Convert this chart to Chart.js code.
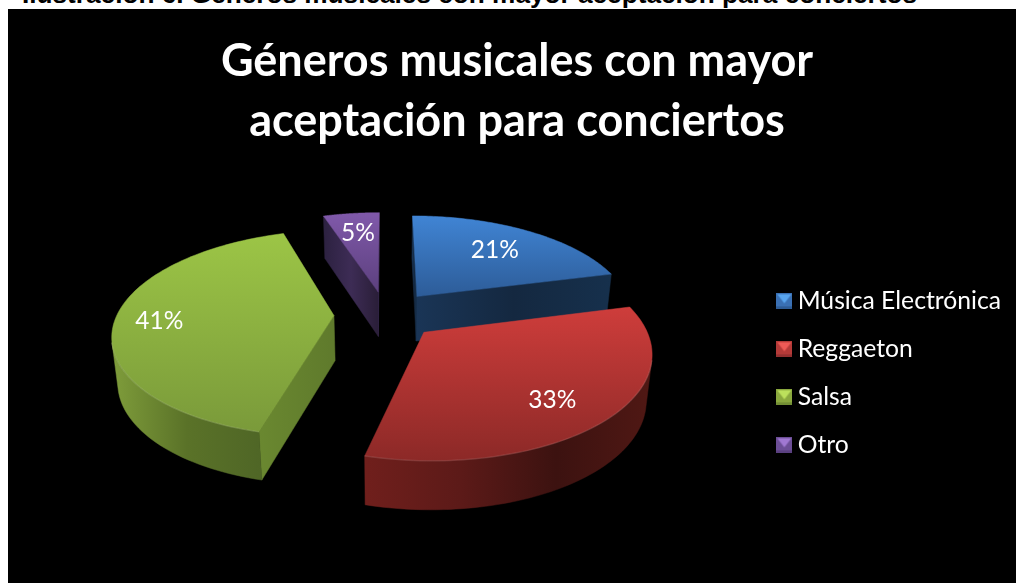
<!DOCTYPE html>
<html>
<head>
<meta charset="utf-8">
<title>Géneros musicales</title>
<script src="https://cdn.jsdelivr.net/npm/chart.js@4"></script>
<style>
  html, body { margin: 0; padding: 0; background: #fff; overflow: hidden; }
  #caption {
    position: absolute; left: 22px; top: -18px; white-space: nowrap;
    font: bold 26.2px/24px "Liberation Sans", Arial, sans-serif; color: #000;
  }
  #panel { position: absolute; left: 8px; top: 9px; width: 1008px; height: 574px; background: #000; }
</style>
</head>
<body>
<div id="caption">Ilustración 6. Géneros musicales con mayor aceptación para conciertos</div>
<div id="panel"><canvas id="pie" width="1008" height="574"></canvas></div>
<script>
const categories = ["Música Electrónica", "Reggaeton", "Salsa", "Otro"];
const percentages = [21, 33, 41, 5];
const titleLines = ["Géneros musicales con mayor", "aceptación para conciertos"];

// how far along the slice bisector each percentage sits, as a share of the radius
const labelRadius = [0.68, 0.74, 0.8, 0.72];
const labelNudge = [[0, 0], [-4, 7], [0, 3], [0, 0]];

const topColors = [
    ["#4084d4", "#2d5c98"],
    ["#ce3d3b", "#8c2927"],
    ["#9cc546", "#7a9a3a"],
    ["#8059aa", "#5c407e"],
];
const wallColors = [
    ["#18304e", "#132640"],
    ["#701f1c", "#5c1a18", "#3c1210", "#501814"],
    ["#7f9d3b", "#5a7228", "#4f6626"],
    ["#2e2440", "#2e2440"],
];
const cutColors = [
    ["#1a3556", "#142840", "#16304c"],
    ["#5c1a18", "#5c1a18"],
    ["#6a8830", "#5f7a2c"],
    ["#2c2140", "#3d2c55", "#2a1e38"],
];
const legendColors = [
    ["#58a4ee", "#3a70b4", "#2e5c96"],
    ["#ee5a56", "#b43a38", "#943030"],
    ["#bce05c", "#8aa83e", "#728e34"],
    ["#a078d2", "#6c4e96", "#5a4080"],
];

// flattening and perspective of the tilted disc
const FLATTEN = 100 / 217;
const PERSPECTIVE = 0.17;
const DEPTH_NEAR = 29;
const DEPTH_FAR = 16;
const BASE_SCALE = 0.978;
const SHIFT_X = -5.5;
const SHIFT_Y = -58.5;
const STEPS = 90;

function project(arc, u, v, lowered) {
    const r = arc.outerRadius;
    const w = 1 + PERSPECTIVE * v;
    let x = (r * u) / w;
    let y = (-r * FLATTEN * v) / w;
    if (lowered) {
        x *= BASE_SCALE;
        y += DEPTH_NEAR + DEPTH_FAR / w;
    }
    return { x: arc.x + SHIFT_X + x, y: arc.y + SHIFT_Y + y };
}

// disc coordinates: u to the right, v to the back, theta clockwise from the top
function slicePoints(arc) {
    const from = arc.startAngle + Math.PI / 2;
    const to = arc.endAngle + Math.PI / 2;
    const mid = (from + to) / 2;
    const e = arc.options.offset / arc.outerRadius;
    const ox = e * Math.sin(mid);
    const oy = e * Math.cos(mid);
    const rim = [];
    for (let i = 0; i <= STEPS; i++) {
        const t = from + ((to - from) * i) / STEPS;
        rim.push([ox + Math.sin(t), oy + Math.cos(t)]);
    }
    return { apex: [ox, oy], rim, mid, e };
}

function area(points) {
    let sum = 0;
    points.forEach((p, i) => {
        const q = points[(i + 1) % points.length];
        sum += p.x * q.y - q.x * p.y;
    });
    return sum;
}

function tracePath(ctx, points) {
    ctx.beginPath();
    points.forEach((p, i) => (i ? ctx.lineTo(p.x, p.y) : ctx.moveTo(p.x, p.y)));
    ctx.closePath();
}

function spreadGradient(ctx, points, colors, vertical) {
    const xs = points.map((p) => (vertical ? p.y : p.x));
    const lo = Math.min(...xs);
    const hi = Math.max(...xs);
    const g = vertical ? ctx.createLinearGradient(0, lo, 0, hi) : ctx.createLinearGradient(lo, 0, hi, 0);
    colors.forEach((c, i) => g.addColorStop(i / (colors.length - 1), c));
    return g;
}

function fillFace(ctx, points, colors, vertical) {
    const fill = spreadGradient(ctx, points, colors, vertical);
    tracePath(ctx, points);
    ctx.fillStyle = fill;
    ctx.strokeStyle = fill;
    ctx.lineWidth = 0.5;
    ctx.fill();
    ctx.stroke();
}

function sideFace(arc, a, b) {
    return [project(arc, a[0], a[1]), project(arc, b[0], b[1]), project(arc, b[0], b[1], true), project(arc, a[0], a[1], true)];
}

function drawSlice(ctx, arc, index) {
    const { apex, rim } = slicePoints(arc);

    // the two cut faces, only when they turn towards the viewer
    [sideFace(arc, apex, rim[0]), sideFace(arc, rim[STEPS], apex)].forEach((face) => {
        if (area(face) < 0) fillFace(ctx, face, cutColors[index], false);
    });

    // outer wall, the run of rim segments that faces the viewer
    const upper = [];
    const lower = [];
    for (let i = 0; i < STEPS; i++) {
        if (area(sideFace(arc, rim[i], rim[i + 1])) < 0) {
            if (!upper.length) {
                upper.push(project(arc, rim[i][0], rim[i][1]));
                lower.push(project(arc, rim[i][0], rim[i][1], true));
            }
            upper.push(project(arc, rim[i + 1][0], rim[i + 1][1]));
            lower.push(project(arc, rim[i + 1][0], rim[i + 1][1], true));
        }
    }
    if (upper.length) fillFace(ctx, upper.concat(lower.reverse()), wallColors[index], false);

    // top face
    const top = [apex].concat(rim).map((p) => project(arc, p[0], p[1]));
    fillFace(ctx, top, topColors[index], true);

    // lit bevel on the front rim
    if (upper.length) {
        ctx.beginPath();
        upper.forEach((p, i) => (i ? ctx.lineTo(p.x, p.y) : ctx.moveTo(p.x, p.y)));
        ctx.strokeStyle = "rgba(255,255,255,0.1)";
        ctx.lineWidth = 1.5;
        ctx.stroke();
    }
}

// pie controller that lays the arcs out as usual and paints them as a tilted solid
class TiltedPieController extends Chart.PieController {
    draw() {
        const ctx = this.chart.ctx;
        const arcs = this._cachedMeta.data;
        const order = arcs
            .map((arc, index) => ({ arc, index, depth: slicePoints(arc).apex[1] }))
            .sort((a, b) => b.depth - a.depth);
        ctx.save();
        order.forEach((item) => drawSlice(ctx, item.arc, item.index));
        ctx.restore();
    }
}
TiltedPieController.id = "tiltedPie";
TiltedPieController.defaults = Chart.PieController.defaults;
TiltedPieController.overrides = Chart.PieController.overrides;
Chart.register(TiltedPieController);

const percentLabels = {
    id: "percentLabels",
    afterDatasetsDraw(chart) {
        const ctx = chart.ctx;
        const arcs = chart.getDatasetMeta(0).data;
        ctx.save();
        ctx.fillStyle = "#fff";
        ctx.font = '24.5px Lato, sans-serif';
        ctx.textAlign = "center";
        ctx.textBaseline = "middle";
        arcs.forEach((arc, i) => {
            const { mid, e } = slicePoints(arc);
            const r = labelRadius[i] + e;
            const p = project(arc, r * Math.sin(mid), r * Math.cos(mid));
            ctx.fillText(percentages[i] + "%", p.x + labelNudge[i][0], p.y + labelNudge[i][1]);
        });
        ctx.restore();
    },
};

// small bevelled legend square: light top, mid sides, dark bottom
function legendSwatch(colors) {
    const size = 16;
    const c = document.createElement("canvas");
    c.width = size;
    c.height = size;
    const g = c.getContext("2d");
    g.fillStyle = colors[1];
    g.fillRect(0, 0, size, size);
    g.fillStyle = colors[0];
    g.beginPath();
    g.moveTo(1, 1);
    g.lineTo(size - 1, 1);
    g.lineTo(size / 2, size / 2 + 2);
    g.fill();
    g.fillStyle = colors[2];
    g.fillRect(0, size - 3, size, 3);
    return c;
}

new Chart(document.getElementById("pie"), {
    type: "tiltedPie",
    data: {
        labels: categories,
        datasets: [{
            data: percentages,
            radius: 217,
            offset: 52,
            backgroundColor: topColors.map((c) => c[0]),
            pointStyle: legendColors.map(legendSwatch),
        }],
    },
    plugins: [percentLabels],
    options: {
        responsive: false,
        animation: false,
        layout: { padding: { left: 15, right: 5, bottom: 6 } },
        plugins: {
            tooltip: { enabled: false },
            title: {
                display: true,
                text: titleLines,
                color: "#fff",
                font: { family: "Lato, sans-serif", size: 45, weight: "bold", lineHeight: 1.33 },
                padding: { top: 23, bottom: 18 },
            },
            legend: {
                position: "right",
                fullSize: false,
                labels: {
                    color: "#fff",
                    font: { family: "Lato, sans-serif", size: 24.7 },
                    usePointStyle: true,
                    pointStyleWidth: 2,
                    padding: 23.3,
                    generateLabels(chart) {
                        const set = chart.data.datasets[0];
                        return chart.data.labels.map((text, i) => ({
                            text,
                            fontColor: "#fff",
                            pointStyle: set.pointStyle[i],
                            lineWidth: 0,
                            index: i,
                        }));
                    },
                },
            },
        },
    },
});
</script>
</body>
</html>
